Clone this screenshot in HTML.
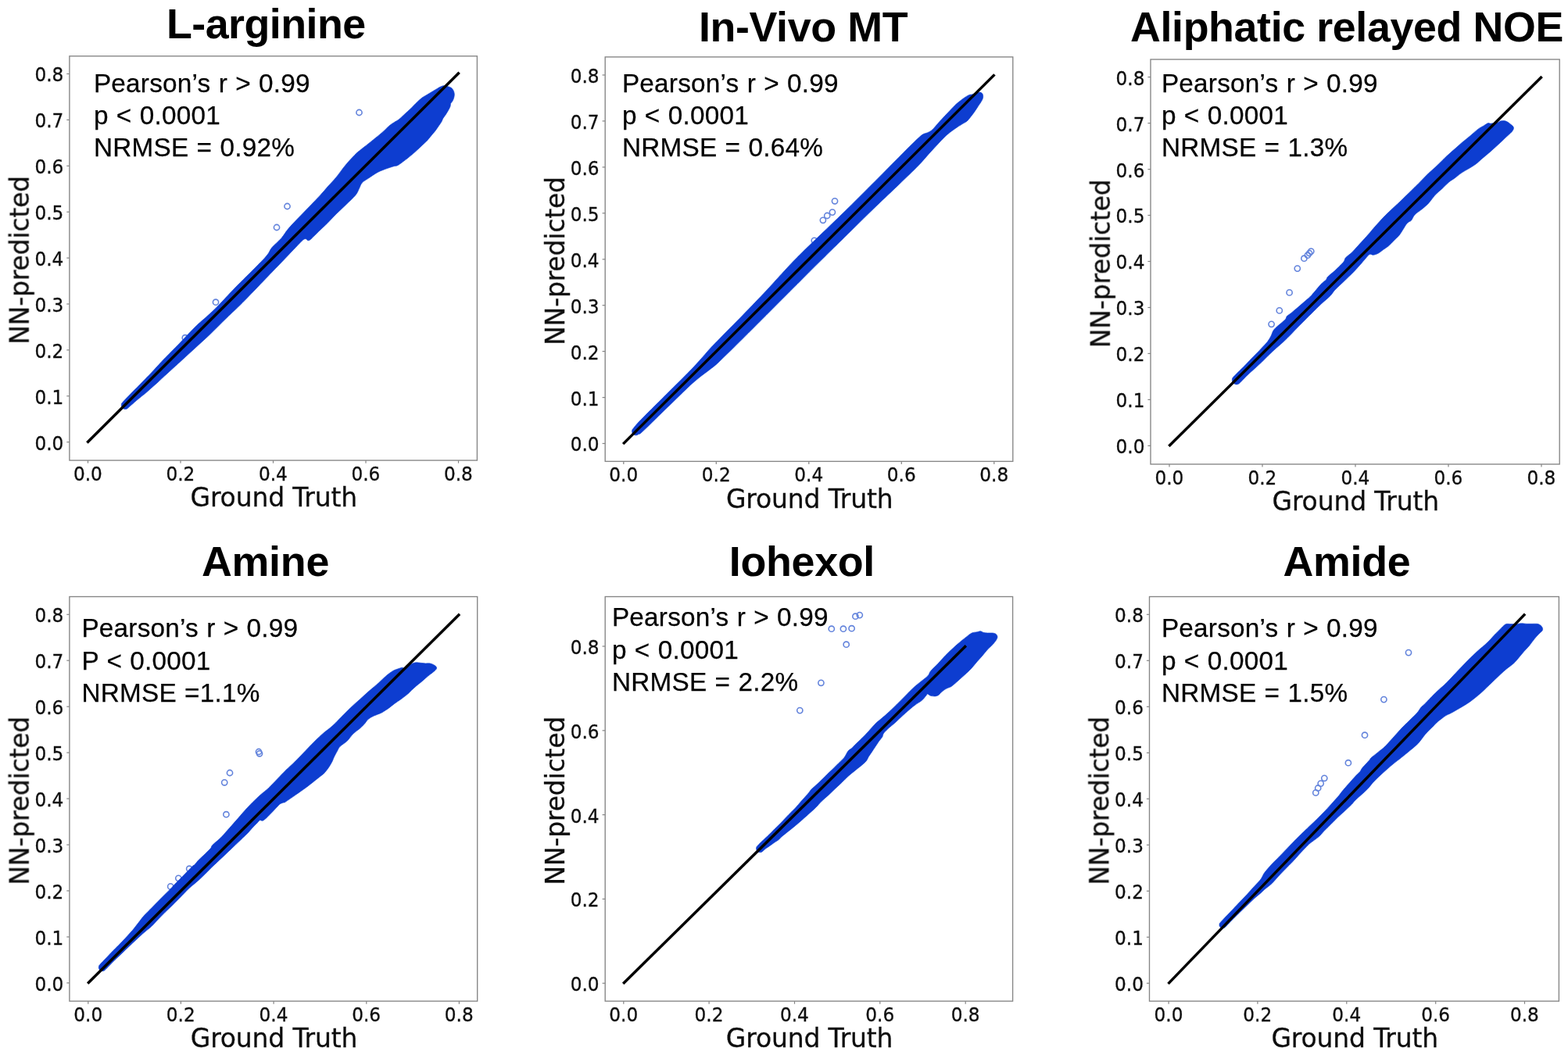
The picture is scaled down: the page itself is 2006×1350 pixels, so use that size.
<!DOCTYPE html>
<html lang="en">
<head>
<meta charset="utf-8">
<title>NN-predicted vs Ground Truth</title>
<style>
html,body{margin:0;padding:0;background:#fff;}
body{width:2006px;height:1350px;overflow:hidden;}
svg{display:block;}
.tk{font-family:"DejaVu Sans","Liberation Sans",sans-serif;font-size:25.0px;fill:#111111;stroke:#111111;stroke-width:0.35px;}
.lb{font-family:"DejaVu Sans","Liberation Sans",sans-serif;font-size:33px;fill:#111111;letter-spacing:-0.17px;stroke:#111111;stroke-width:0.3px;}
.an{font-family:"Liberation Sans",Arial,sans-serif;font-size:33.3px;fill:#000;white-space:pre;letter-spacing:0.24px;word-spacing:0.7px;stroke:#000;stroke-width:0.25px;}
.tt{font-family:"Liberation Sans",Arial,sans-serif;font-size:53.8px;font-weight:bold;fill:#000;}
.mpl{filter:url(#soft);}
</style>
</head>
<body>
<svg xmlns="http://www.w3.org/2000/svg" width="2006" height="1350" viewBox="0 0 2006 1350">
<defs><filter id="soft" x="0" y="0" width="2006" height="1350" filterUnits="userSpaceOnUse"><feGaussianBlur stdDeviation="0.65"/></filter></defs>
<rect width="2006" height="1350" fill="#ffffff"/>
<g class="mpl">
<circle cx="459.5" cy="144.0" r="3.6" fill="none" stroke="#6484dc" stroke-width="1.6"/>
<circle cx="367.5" cy="264.0" r="3.6" fill="none" stroke="#6484dc" stroke-width="1.6"/>
<circle cx="354.0" cy="291.0" r="3.6" fill="none" stroke="#6484dc" stroke-width="1.6"/>
<circle cx="276.0" cy="386.7" r="3.6" fill="none" stroke="#6484dc" stroke-width="1.6"/>
<circle cx="236.8" cy="432.2" r="3.6" fill="none" stroke="#6484dc" stroke-width="1.6"/>
<path d="M163.8,522.1C162.7,522.9 162.4,523.2 161.5,523.4C160.7,523.6 159.7,523.6 158.9,523.4C158.1,523.2 157.3,522.7 156.7,522.1C156.1,521.5 155.6,520.6 155.4,519.8C155.2,519.0 155.2,518.0 155.4,517.2C155.6,516.4 154.6,517.3 156.7,514.9C158.8,512.6 164.6,506.6 168.0,503.1C171.4,499.6 174.0,497.1 177.0,494.1C180.0,491.0 183.2,487.7 186.0,484.8C188.8,481.9 191.2,479.6 194.0,476.6C196.8,473.6 200.3,469.7 203.0,466.8C205.7,463.9 205.5,464.0 210.0,459.3C214.5,454.7 223.3,445.8 230.0,438.9C236.7,432.1 244.2,423.8 250.0,418.1C255.8,412.3 260.0,409.3 265.0,404.6C270.0,400.0 274.2,396.2 280.0,390.2C285.8,384.3 291.7,377.6 300.0,369.0C308.3,360.5 323.0,346.2 330.0,339.0C337.0,331.8 339.0,329.8 342.0,326.1C345.0,322.3 345.0,320.2 348.0,316.6C351.0,313.0 356.3,308.9 360.0,304.7C363.7,300.4 365.0,297.0 370.0,291.3C375.0,285.6 383.3,277.3 390.0,270.3C396.7,263.3 405.0,254.8 410.0,249.4C415.0,244.0 416.7,241.7 420.0,238.0C423.3,234.2 426.4,231.4 430.0,226.9C433.6,222.5 437.9,216.2 441.9,211.4C445.8,206.7 450.8,201.5 453.7,198.5C456.6,195.4 457.6,194.8 459.6,193.1C461.6,191.4 462.6,190.7 465.6,188.3C468.6,186.0 473.5,182.1 477.4,178.9C481.3,175.7 485.6,172.4 489.0,169.4C492.4,166.4 495.4,163.1 498.0,160.9C500.6,158.7 502.7,157.7 504.7,156.3C506.7,155.0 508.0,154.6 510.0,153.1C512.0,151.5 513.9,149.6 516.7,147.0C519.5,144.4 523.9,140.3 526.7,137.7C529.5,135.0 531.1,133.1 533.3,131.0C535.5,128.9 537.8,126.7 540.0,125.0C542.2,123.4 544.5,122.3 546.7,121.0C548.9,119.6 551.1,118.4 553.3,117.0C555.5,115.7 558.0,114.1 560.0,113.0C562.0,111.8 563.8,110.8 565.3,110.3C566.8,109.7 567.4,109.6 568.7,109.7C570.0,109.8 571.9,110.3 573.3,110.7C574.7,111.1 576.2,111.5 577.3,112.3C578.4,113.1 579.3,114.4 580.0,115.7C580.7,117.0 581.2,118.8 581.3,120.3C581.4,121.8 581.1,123.4 580.7,125.0C580.3,126.6 579.4,128.5 578.7,129.7C578.0,130.9 577.2,131.2 576.7,132.3C576.2,133.4 576.6,134.7 576.0,136.3C575.4,137.9 574.3,139.9 573.3,141.7C572.3,143.5 571.1,145.3 570.0,147.0C568.9,148.7 567.5,150.4 566.7,151.7C565.9,153.0 565.9,153.9 565.3,155.0C564.7,156.1 564.2,157.0 563.3,158.3C562.4,159.6 561.1,161.4 560.0,163.0C558.9,164.6 557.8,166.2 556.7,167.7C555.6,169.1 554.4,170.4 553.3,171.7C552.2,173.0 551.1,174.4 550.0,175.7C548.9,177.0 547.8,178.5 546.7,179.7C545.6,180.9 545.8,180.7 543.3,183.0C540.8,185.3 535.5,190.4 532.0,193.6C528.5,196.8 525.7,199.2 522.0,202.0C518.3,204.9 513.0,209.1 510.0,210.9C507.0,212.7 506.5,212.0 504.0,212.7C501.5,213.5 498.6,214.3 495.2,215.6C491.8,216.9 487.2,218.4 483.3,220.4C479.4,222.5 474.9,225.8 471.5,228.1C468.1,230.3 465.2,231.8 463.2,234.0C461.2,236.2 461.0,238.5 459.6,241.1C458.2,243.7 457.8,246.2 454.9,249.7C452.0,253.2 446.5,258.1 442.4,262.2C438.2,266.3 433.9,270.2 430.0,274.0C426.1,277.9 422.3,282.1 419.0,285.5C415.7,288.8 413.0,291.1 410.0,294.0C407.0,296.9 403.2,300.7 401.0,302.8C398.8,304.9 398.2,305.8 397.0,306.7C395.8,307.5 394.9,308.0 394.0,307.8C393.1,307.7 392.5,306.0 391.5,305.8C390.5,305.7 389.9,305.3 388.0,306.8C386.1,308.3 384.7,309.9 380.0,314.8C375.3,319.6 366.7,328.8 360.0,335.8C353.3,342.7 348.3,347.9 340.0,356.5C331.7,365.2 318.3,379.2 310.0,387.6C301.7,396.0 297.0,400.0 290.0,406.8C283.0,413.6 274.7,422.1 268.0,428.5C261.3,434.8 256.3,439.2 250.0,445.1C243.7,450.9 236.7,457.3 230.0,463.4C223.3,469.5 214.5,477.5 210.0,481.6C205.5,485.8 205.7,485.8 203.0,488.2C200.3,490.6 196.8,493.7 194.0,496.2C191.2,498.8 188.8,500.9 186.0,503.3C183.2,505.7 180.0,508.0 177.0,510.5C174.0,513.0 170.2,516.4 168.0,518.3C165.8,520.2 164.9,521.2 163.8,522.1Z" fill="#0a3dd0" stroke="#0a3dd0" stroke-width="0.6" stroke-linejoin="round"/>
<line x1="111.36" y1="566.43" x2="587.64" y2="92.77" stroke="#000" stroke-width="3.5" stroke-linecap="butt"/>
<rect x="88.9" y="71.8" width="521.5" height="517.3" fill="none" stroke="#858585" stroke-width="1.35"/>
<line x1="112.5" y1="589.1" x2="112.5" y2="592.7" stroke="#858585" stroke-width="1.2"/>
<text transform="translate(112.4,614.7) scale(0.928,1)" text-anchor="middle" class="tk">0.0</text>
<line x1="231.0" y1="589.1" x2="231.0" y2="592.7" stroke="#858585" stroke-width="1.2"/>
<text transform="translate(230.9,614.7) scale(0.928,1)" text-anchor="middle" class="tk">0.2</text>
<line x1="349.5" y1="589.1" x2="349.5" y2="592.7" stroke="#858585" stroke-width="1.2"/>
<text transform="translate(349.4,614.7) scale(0.928,1)" text-anchor="middle" class="tk">0.4</text>
<line x1="468.0" y1="589.1" x2="468.0" y2="592.7" stroke="#858585" stroke-width="1.2"/>
<text transform="translate(467.9,614.7) scale(0.928,1)" text-anchor="middle" class="tk">0.6</text>
<line x1="586.5" y1="589.1" x2="586.5" y2="592.7" stroke="#858585" stroke-width="1.2"/>
<text transform="translate(586.4,614.7) scale(0.928,1)" text-anchor="middle" class="tk">0.8</text>
<line x1="85.3" y1="565.7" x2="88.9" y2="565.7" stroke="#858585" stroke-width="1.2"/>
<text transform="translate(81.3,575.6) scale(0.928,1)" text-anchor="end" class="tk">0.0</text>
<line x1="85.3" y1="506.8" x2="88.9" y2="506.8" stroke="#858585" stroke-width="1.2"/>
<text transform="translate(81.3,516.7) scale(0.928,1)" text-anchor="end" class="tk">0.1</text>
<line x1="85.3" y1="447.9" x2="88.9" y2="447.9" stroke="#858585" stroke-width="1.2"/>
<text transform="translate(81.3,457.8) scale(0.928,1)" text-anchor="end" class="tk">0.2</text>
<line x1="85.3" y1="389.0" x2="88.9" y2="389.0" stroke="#858585" stroke-width="1.2"/>
<text transform="translate(81.3,398.9) scale(0.928,1)" text-anchor="end" class="tk">0.3</text>
<line x1="85.3" y1="330.1" x2="88.9" y2="330.1" stroke="#858585" stroke-width="1.2"/>
<text transform="translate(81.3,340.0) scale(0.928,1)" text-anchor="end" class="tk">0.4</text>
<line x1="85.3" y1="271.2" x2="88.9" y2="271.2" stroke="#858585" stroke-width="1.2"/>
<text transform="translate(81.3,281.1) scale(0.928,1)" text-anchor="end" class="tk">0.5</text>
<line x1="85.3" y1="212.3" x2="88.9" y2="212.3" stroke="#858585" stroke-width="1.2"/>
<text transform="translate(81.3,222.2) scale(0.928,1)" text-anchor="end" class="tk">0.6</text>
<line x1="85.3" y1="153.4" x2="88.9" y2="153.4" stroke="#858585" stroke-width="1.2"/>
<text transform="translate(81.3,163.3) scale(0.928,1)" text-anchor="end" class="tk">0.7</text>
<line x1="85.3" y1="94.5" x2="88.9" y2="94.5" stroke="#858585" stroke-width="1.2"/>
<text transform="translate(81.3,104.4) scale(0.928,1)" text-anchor="end" class="tk">0.8</text>
<text x="350.3" y="648.4" text-anchor="middle" class="lb">Ground Truth</text>
<text transform="translate(36.7,332.8) rotate(-90)" text-anchor="middle" class="lb">NN-predicted</text>
</g>
<text x="119.9" y="117.5" class="an">Pearson’s r &gt; 0.99</text>
<text x="119.9" y="158.6" class="an">p &lt; 0.0001</text>
<text x="119.9" y="199.6" class="an">NRMSE = 0.92%</text>
<text x="340.3" y="49.4" text-anchor="middle" class="tt" style="letter-spacing:-0.53px">L-arginine</text>
<g class="mpl">
<circle cx="1068.0" cy="257.3" r="3.6" fill="none" stroke="#6484dc" stroke-width="1.6"/>
<circle cx="1064.9" cy="271.6" r="3.6" fill="none" stroke="#6484dc" stroke-width="1.6"/>
<circle cx="1058.2" cy="276.0" r="3.6" fill="none" stroke="#6484dc" stroke-width="1.6"/>
<circle cx="1052.9" cy="281.8" r="3.6" fill="none" stroke="#6484dc" stroke-width="1.6"/>
<circle cx="1041.8" cy="307.8" r="3.6" fill="none" stroke="#6484dc" stroke-width="1.6"/>
<path d="M817.1,555.5C815.9,556.2 815.7,556.6 814.8,556.8C814.0,557.0 813.0,557.0 812.2,556.8C811.4,556.6 810.6,556.1 810.0,555.5C809.4,554.9 808.9,554.0 808.7,553.2C808.5,552.4 808.5,551.4 808.7,550.6C808.9,549.8 808.1,550.6 810.0,548.4C811.9,546.1 813.3,544.0 820.0,537.1C826.7,530.2 840.0,517.1 850.0,507.1C860.0,497.1 872.5,484.9 880.0,477.2C887.5,469.6 890.3,466.5 895.0,461.3C899.7,456.2 903.8,450.9 908.0,446.4C912.2,441.8 913.0,441.1 920.0,433.9C927.0,426.8 940.0,413.9 950.0,403.6C960.0,393.3 971.7,381.1 980.0,372.3C988.3,363.4 993.3,357.5 1000.0,350.4C1006.7,343.2 1011.7,337.5 1020.0,329.2C1028.3,320.8 1040.0,309.8 1050.0,300.1C1060.0,290.5 1068.3,282.6 1080.0,271.2C1091.7,259.7 1108.3,243.1 1120.0,231.4C1131.7,219.7 1141.7,209.5 1150.0,201.2C1158.3,192.8 1165.0,186.1 1170.0,181.3C1175.0,176.5 1177.2,174.3 1180.0,172.3C1182.8,170.4 1184.5,170.7 1186.7,169.7C1188.9,168.6 1190.5,168.1 1193.0,165.8C1195.5,163.4 1198.3,159.6 1202.0,155.6C1205.7,151.6 1211.3,145.5 1215.0,141.7C1218.7,137.9 1221.0,135.3 1224.0,132.6C1227.0,130.0 1230.2,127.5 1232.8,125.7C1235.4,123.9 1237.6,122.5 1239.4,121.7C1241.2,120.9 1242.1,121.3 1243.9,120.8C1245.7,120.3 1248.3,119.0 1250.0,118.6C1251.7,118.1 1252.9,117.8 1254.1,118.1C1255.3,118.4 1256.4,119.3 1257.0,120.3C1257.6,121.3 1257.7,122.7 1257.7,123.9C1257.7,125.1 1257.2,126.2 1256.8,127.3C1256.3,128.4 1256.0,128.9 1255.0,130.6C1254.0,132.2 1252.1,135.0 1250.6,137.2C1249.1,139.4 1247.6,141.8 1246.1,143.9C1244.6,146.0 1243.2,147.8 1241.7,149.7C1240.2,151.6 1238.7,153.7 1237.2,155.0C1235.8,156.3 1235.1,156.3 1233.0,157.6C1230.9,158.9 1227.3,161.0 1224.4,162.9C1221.5,164.9 1218.5,166.8 1215.6,169.2C1212.6,171.6 1211.1,172.7 1206.7,177.2C1202.3,181.6 1194.3,190.4 1189.0,196.2C1183.7,201.9 1181.5,205.1 1175.0,211.8C1168.5,218.5 1159.2,227.3 1150.0,236.2C1140.8,245.0 1131.7,253.5 1120.0,264.8C1108.3,276.1 1091.7,292.6 1080.0,304.1C1068.3,315.6 1060.0,323.7 1050.0,333.6C1040.0,343.5 1031.7,351.8 1020.0,363.5C1008.3,375.1 991.7,391.9 980.0,403.6C968.3,415.2 960.0,423.7 950.0,433.6C940.0,443.5 927.0,456.4 920.0,462.9C913.0,469.5 912.2,469.6 908.0,472.9C903.8,476.2 899.7,479.0 895.0,482.8C890.3,486.7 887.5,488.9 880.0,495.9C872.5,503.0 859.7,515.7 850.0,525.1C840.3,534.5 827.5,547.3 822.0,552.3C816.5,557.4 818.3,554.8 817.1,555.5Z" fill="#0a3dd0" stroke="#0a3dd0" stroke-width="0.6" stroke-linejoin="round"/>
<line x1="797.16" y1="568.13" x2="1272.44" y2="95.37" stroke="#000" stroke-width="3.5" stroke-linecap="butt"/>
<rect x="774.2" y="72.9" width="521.6" height="517.5" fill="none" stroke="#858585" stroke-width="1.35"/>
<line x1="797.8" y1="590.4" x2="797.8" y2="594.0" stroke="#858585" stroke-width="1.2"/>
<text transform="translate(797.7,616.0) scale(0.928,1)" text-anchor="middle" class="tk">0.0</text>
<line x1="916.3" y1="590.4" x2="916.3" y2="594.0" stroke="#858585" stroke-width="1.2"/>
<text transform="translate(916.2,616.0) scale(0.928,1)" text-anchor="middle" class="tk">0.2</text>
<line x1="1034.8" y1="590.4" x2="1034.8" y2="594.0" stroke="#858585" stroke-width="1.2"/>
<text transform="translate(1034.7,616.0) scale(0.928,1)" text-anchor="middle" class="tk">0.4</text>
<line x1="1153.3" y1="590.4" x2="1153.3" y2="594.0" stroke="#858585" stroke-width="1.2"/>
<text transform="translate(1153.2,616.0) scale(0.928,1)" text-anchor="middle" class="tk">0.6</text>
<line x1="1271.8" y1="590.4" x2="1271.8" y2="594.0" stroke="#858585" stroke-width="1.2"/>
<text transform="translate(1271.7,616.0) scale(0.928,1)" text-anchor="middle" class="tk">0.8</text>
<line x1="770.6" y1="567.5" x2="774.2" y2="567.5" stroke="#858585" stroke-width="1.2"/>
<text transform="translate(766.6,577.4) scale(0.928,1)" text-anchor="end" class="tk">0.0</text>
<line x1="770.6" y1="508.6" x2="774.2" y2="508.6" stroke="#858585" stroke-width="1.2"/>
<text transform="translate(766.6,518.5) scale(0.928,1)" text-anchor="end" class="tk">0.1</text>
<line x1="770.6" y1="449.6" x2="774.2" y2="449.6" stroke="#858585" stroke-width="1.2"/>
<text transform="translate(766.6,459.5) scale(0.928,1)" text-anchor="end" class="tk">0.2</text>
<line x1="770.6" y1="390.7" x2="774.2" y2="390.7" stroke="#858585" stroke-width="1.2"/>
<text transform="translate(766.6,400.6) scale(0.928,1)" text-anchor="end" class="tk">0.3</text>
<line x1="770.6" y1="331.8" x2="774.2" y2="331.8" stroke="#858585" stroke-width="1.2"/>
<text transform="translate(766.6,341.6) scale(0.928,1)" text-anchor="end" class="tk">0.4</text>
<line x1="770.6" y1="272.8" x2="774.2" y2="272.8" stroke="#858585" stroke-width="1.2"/>
<text transform="translate(766.6,282.7) scale(0.928,1)" text-anchor="end" class="tk">0.5</text>
<line x1="770.6" y1="213.9" x2="774.2" y2="213.9" stroke="#858585" stroke-width="1.2"/>
<text transform="translate(766.6,223.8) scale(0.928,1)" text-anchor="end" class="tk">0.6</text>
<line x1="770.6" y1="154.9" x2="774.2" y2="154.9" stroke="#858585" stroke-width="1.2"/>
<text transform="translate(766.6,164.8) scale(0.928,1)" text-anchor="end" class="tk">0.7</text>
<line x1="770.6" y1="96.0" x2="774.2" y2="96.0" stroke="#858585" stroke-width="1.2"/>
<text transform="translate(766.6,105.9) scale(0.928,1)" text-anchor="end" class="tk">0.8</text>
<text x="1035.7" y="649.7" text-anchor="middle" class="lb">Ground Truth</text>
<text transform="translate(722.0,333.9) rotate(-90)" text-anchor="middle" class="lb">NN-predicted</text>
</g>
<text x="795.9" y="117.5" class="an">Pearson’s r &gt; 0.99</text>
<text x="795.9" y="158.6" class="an">p &lt; 0.0001</text>
<text x="795.9" y="199.6" class="an">NRMSE = 0.64%</text>
<text x="1027.6" y="52.7" text-anchor="middle" class="tt" style="letter-spacing:-0.37px">In-Vivo MT</text>
<g class="mpl">
<circle cx="1626.6" cy="414.8" r="3.6" fill="none" stroke="#6484dc" stroke-width="1.6"/>
<circle cx="1636.8" cy="397.4" r="3.6" fill="none" stroke="#6484dc" stroke-width="1.6"/>
<circle cx="1649.6" cy="374.4" r="3.6" fill="none" stroke="#6484dc" stroke-width="1.6"/>
<circle cx="1659.8" cy="343.6" r="3.6" fill="none" stroke="#6484dc" stroke-width="1.6"/>
<circle cx="1668.4" cy="330.7" r="3.6" fill="none" stroke="#6484dc" stroke-width="1.6"/>
<circle cx="1672.9" cy="326.7" r="3.6" fill="none" stroke="#6484dc" stroke-width="1.6"/>
<circle cx="1675.1" cy="324.0" r="3.6" fill="none" stroke="#6484dc" stroke-width="1.6"/>
<circle cx="1677.3" cy="321.6" r="3.6" fill="none" stroke="#6484dc" stroke-width="1.6"/>
<path d="M1585.9,490.3C1584.8,491.2 1584.3,491.5 1583.4,491.7C1582.5,492.0 1581.4,492.0 1580.5,491.7C1579.6,491.5 1578.6,490.9 1578.0,490.3C1577.3,489.6 1576.8,488.6 1576.5,487.7C1576.3,486.8 1576.3,485.7 1576.5,484.8C1576.8,483.9 1576.1,484.4 1578.0,482.3C1579.9,480.2 1585.7,474.6 1588.0,472.3C1590.3,470.0 1589.8,470.6 1592.0,468.3C1594.2,466.1 1598.2,461.8 1601.0,458.8C1603.8,455.9 1606.2,453.7 1609.0,450.8C1611.8,447.9 1615.8,443.5 1618.0,441.2C1620.2,438.8 1620.7,438.5 1622.0,436.6C1623.3,434.8 1624.7,432.6 1626.0,430.0C1627.3,427.5 1627.8,424.3 1630.0,421.6C1632.2,418.8 1636.5,415.7 1639.0,413.5C1641.5,411.2 1643.5,409.7 1644.7,408.2C1645.9,406.7 1645.2,405.9 1646.4,404.6C1647.6,403.3 1649.6,402.4 1652.0,400.4C1654.4,398.4 1658.0,395.3 1661.0,392.8C1664.0,390.2 1667.2,387.5 1670.0,385.0C1672.8,382.5 1674.7,381.3 1678.0,377.7C1681.3,374.1 1686.9,366.9 1690.0,363.6C1693.1,360.3 1695.1,359.5 1696.6,357.9C1698.0,356.3 1696.9,356.0 1698.7,354.1C1700.5,352.2 1704.6,349.1 1707.5,346.5C1710.4,343.8 1714.2,340.3 1716.2,338.1C1718.2,336.0 1718.8,335.2 1719.7,333.8C1720.6,332.4 1719.9,331.6 1721.5,329.8C1723.1,328.0 1727.3,325.0 1729.3,323.2C1731.3,321.3 1730.2,322.3 1733.7,318.5C1737.2,314.7 1745.8,305.4 1750.0,300.6C1754.2,295.9 1756.0,293.4 1759.0,290.0C1762.0,286.6 1765.0,283.3 1768.0,280.1C1771.0,276.9 1774.1,273.9 1777.0,271.1C1779.9,268.2 1783.4,265.0 1785.6,263.0C1787.8,260.9 1785.9,262.9 1790.0,259.0C1794.1,255.1 1805.2,244.2 1810.0,239.5C1814.8,234.7 1816.1,233.4 1819.0,230.4C1821.9,227.5 1824.7,224.5 1827.5,221.8C1830.3,219.1 1833.1,216.9 1836.0,214.2C1838.9,211.5 1842.5,207.9 1845.0,205.5C1847.5,203.1 1848.5,201.9 1851.0,199.6C1853.5,197.3 1856.8,194.4 1860.0,191.6C1863.2,188.8 1866.6,185.6 1870.0,182.7C1873.4,179.8 1877.0,177.1 1880.4,174.2C1883.9,171.3 1887.7,167.6 1890.7,165.4C1893.7,163.1 1896.3,161.9 1898.5,160.7C1900.7,159.4 1902.2,158.0 1903.7,157.6C1905.2,157.2 1905.3,158.2 1907.3,158.1C1909.3,158.0 1913.6,157.6 1915.6,157.1C1917.6,156.6 1917.7,155.4 1919.2,155.0C1920.7,154.6 1922.8,154.3 1924.4,154.5C1926.0,154.7 1927.3,155.4 1928.6,156.1C1929.9,156.8 1931.1,157.8 1932.2,158.7C1933.3,159.6 1934.6,160.4 1935.3,161.3C1936.0,162.2 1936.7,163.1 1936.4,164.4C1936.2,165.7 1935.4,167.2 1933.8,169.0C1932.2,170.8 1929.8,172.6 1927.0,175.3C1924.2,178.0 1920.2,181.9 1916.7,185.1C1913.2,188.3 1909.8,191.4 1906.3,194.4C1902.8,197.4 1898.9,200.6 1895.9,203.2C1892.9,205.8 1890.9,207.9 1888.1,210.0C1885.3,212.1 1882.0,213.9 1879.0,215.8C1876.0,217.6 1872.8,219.2 1870.0,221.1C1867.2,223.0 1864.4,225.5 1862.4,226.9C1860.4,228.4 1859.5,229.0 1858.0,230.0C1856.5,231.0 1855.9,231.2 1853.7,233.1C1851.5,235.0 1848.0,238.6 1845.0,241.4C1842.0,244.1 1838.8,246.5 1836.0,249.6C1833.2,252.7 1830.8,256.7 1828.0,259.7C1825.2,262.8 1822.0,265.2 1819.0,267.8C1816.0,270.3 1812.2,272.4 1810.0,274.8C1807.8,277.2 1806.9,280.5 1805.6,282.0C1804.3,283.6 1803.5,283.0 1802.4,283.9C1801.3,284.8 1800.3,285.5 1799.0,287.3C1797.7,289.1 1795.9,292.3 1794.4,294.6C1792.9,297.0 1791.9,298.9 1790.0,301.2C1788.1,303.5 1785.2,306.0 1783.0,308.2C1780.8,310.5 1778.9,312.7 1776.7,314.6C1774.5,316.4 1772.3,317.7 1770.0,319.3C1767.7,320.9 1765.2,323.1 1763.0,324.3C1760.8,325.4 1758.7,326.1 1757.0,326.2C1755.3,326.4 1754.2,325.0 1753.0,325.2C1751.8,325.4 1751.8,325.5 1750.0,327.3C1748.2,329.2 1745.1,333.1 1742.4,336.2C1739.7,339.3 1736.6,342.8 1733.7,345.9C1730.8,349.0 1728.0,351.7 1725.0,354.6C1722.0,357.5 1718.9,360.5 1716.0,363.2C1713.1,366.0 1709.8,368.8 1707.5,371.4C1705.2,373.9 1704.9,375.4 1702.0,378.4C1699.1,381.4 1693.8,385.6 1690.0,389.2C1686.2,392.8 1682.3,396.7 1679.0,400.0C1675.7,403.3 1673.0,406.0 1670.0,409.0C1667.0,412.0 1664.0,415.0 1661.0,418.1C1658.0,421.1 1655.2,424.2 1652.0,427.5C1648.8,430.7 1645.3,434.3 1641.6,437.7C1637.9,441.1 1633.3,444.9 1630.0,447.9C1626.7,450.9 1624.7,452.9 1622.0,455.5C1619.3,458.1 1616.8,460.9 1614.0,463.6C1611.2,466.3 1608.0,469.0 1605.0,471.8C1602.0,474.5 1598.2,477.9 1596.0,480.0C1593.8,482.0 1593.0,483.0 1592.0,484.0C1591.0,485.1 1591.0,485.1 1590.0,486.1C1589.0,487.2 1587.0,489.4 1585.9,490.3Z" fill="#0a3dd0" stroke="#0a3dd0" stroke-width="0.6" stroke-linejoin="round"/>
<line x1="1495.36" y1="571.03" x2="1972.64" y2="97.97" stroke="#000" stroke-width="3.5" stroke-linecap="butt"/>
<rect x="1472.0" y="76.0" width="523.2" height="518.0" fill="none" stroke="#858585" stroke-width="1.35"/>
<line x1="1496.0" y1="594.0" x2="1496.0" y2="597.6" stroke="#858585" stroke-width="1.2"/>
<text transform="translate(1495.9,619.6) scale(0.928,1)" text-anchor="middle" class="tk">0.0</text>
<line x1="1615.0" y1="594.0" x2="1615.0" y2="597.6" stroke="#858585" stroke-width="1.2"/>
<text transform="translate(1614.9,619.6) scale(0.928,1)" text-anchor="middle" class="tk">0.2</text>
<line x1="1734.0" y1="594.0" x2="1734.0" y2="597.6" stroke="#858585" stroke-width="1.2"/>
<text transform="translate(1733.9,619.6) scale(0.928,1)" text-anchor="middle" class="tk">0.4</text>
<line x1="1853.0" y1="594.0" x2="1853.0" y2="597.6" stroke="#858585" stroke-width="1.2"/>
<text transform="translate(1852.9,619.6) scale(0.928,1)" text-anchor="middle" class="tk">0.6</text>
<line x1="1972.0" y1="594.0" x2="1972.0" y2="597.6" stroke="#858585" stroke-width="1.2"/>
<text transform="translate(1971.9,619.6) scale(0.928,1)" text-anchor="middle" class="tk">0.8</text>
<line x1="1468.4" y1="570.4" x2="1472.0" y2="570.4" stroke="#858585" stroke-width="1.2"/>
<text transform="translate(1464.4,580.3) scale(0.928,1)" text-anchor="end" class="tk">0.0</text>
<line x1="1468.4" y1="511.4" x2="1472.0" y2="511.4" stroke="#858585" stroke-width="1.2"/>
<text transform="translate(1464.4,521.3) scale(0.928,1)" text-anchor="end" class="tk">0.1</text>
<line x1="1468.4" y1="452.4" x2="1472.0" y2="452.4" stroke="#858585" stroke-width="1.2"/>
<text transform="translate(1464.4,462.3) scale(0.928,1)" text-anchor="end" class="tk">0.2</text>
<line x1="1468.4" y1="393.5" x2="1472.0" y2="393.5" stroke="#858585" stroke-width="1.2"/>
<text transform="translate(1464.4,403.4) scale(0.928,1)" text-anchor="end" class="tk">0.3</text>
<line x1="1468.4" y1="334.5" x2="1472.0" y2="334.5" stroke="#858585" stroke-width="1.2"/>
<text transform="translate(1464.4,344.4) scale(0.928,1)" text-anchor="end" class="tk">0.4</text>
<line x1="1468.4" y1="275.5" x2="1472.0" y2="275.5" stroke="#858585" stroke-width="1.2"/>
<text transform="translate(1464.4,285.4) scale(0.928,1)" text-anchor="end" class="tk">0.5</text>
<line x1="1468.4" y1="216.6" x2="1472.0" y2="216.6" stroke="#858585" stroke-width="1.2"/>
<text transform="translate(1464.4,226.5) scale(0.928,1)" text-anchor="end" class="tk">0.6</text>
<line x1="1468.4" y1="157.6" x2="1472.0" y2="157.6" stroke="#858585" stroke-width="1.2"/>
<text transform="translate(1464.4,167.5) scale(0.928,1)" text-anchor="end" class="tk">0.7</text>
<line x1="1468.4" y1="98.6" x2="1472.0" y2="98.6" stroke="#858585" stroke-width="1.2"/>
<text transform="translate(1464.4,108.5) scale(0.928,1)" text-anchor="end" class="tk">0.8</text>
<text x="1734.3" y="653.3" text-anchor="middle" class="lb">Ground Truth</text>
<text transform="translate(1419.8,337.3) rotate(-90)" text-anchor="middle" class="lb">NN-predicted</text>
</g>
<text x="1485.9" y="117.5" class="an">Pearson’s r &gt; 0.99</text>
<text x="1485.9" y="158.6" class="an">p &lt; 0.0001</text>
<text x="1485.9" y="199.6" class="an">NRMSE = 1.3%</text>
<text x="1723.0" y="53.1" text-anchor="middle" class="tt" style="letter-spacing:-0.39px">Aliphatic relayed NOE</text>
<g class="mpl">
<circle cx="218.2" cy="1134.4" r="3.6" fill="none" stroke="#6484dc" stroke-width="1.6"/>
<circle cx="228.3" cy="1123.8" r="3.6" fill="none" stroke="#6484dc" stroke-width="1.6"/>
<circle cx="242.2" cy="1111.7" r="3.6" fill="none" stroke="#6484dc" stroke-width="1.6"/>
<circle cx="289.4" cy="1042.2" r="3.6" fill="none" stroke="#6484dc" stroke-width="1.6"/>
<circle cx="287.2" cy="1001.3" r="3.6" fill="none" stroke="#6484dc" stroke-width="1.6"/>
<circle cx="294.0" cy="989.0" r="3.6" fill="none" stroke="#6484dc" stroke-width="1.6"/>
<circle cx="331.0" cy="962.0" r="3.6" fill="none" stroke="#6484dc" stroke-width="1.6"/>
<circle cx="332.0" cy="964.3" r="3.6" fill="none" stroke="#6484dc" stroke-width="1.6"/>
<path d="M134.4,1241.2C133.2,1242.3 133.1,1242.2 132.3,1242.4C131.5,1242.6 130.6,1242.6 129.8,1242.4C129.1,1242.2 128.2,1241.7 127.7,1241.2C127.1,1240.6 126.6,1239.8 126.4,1239.0C126.2,1238.2 126.2,1237.3 126.5,1236.5C126.7,1235.8 125.8,1236.6 127.7,1234.4C129.6,1232.2 135.5,1226.3 138.0,1223.6C140.5,1220.9 140.7,1220.6 143.0,1218.2C145.3,1215.8 149.1,1212.3 152.0,1209.3C154.9,1206.3 157.7,1203.3 160.6,1200.2C163.5,1197.1 167.3,1192.8 169.4,1190.5C171.5,1188.1 171.4,1188.0 173.0,1186.0C174.6,1184.0 177.0,1180.8 179.0,1178.2C181.0,1175.7 182.5,1173.5 185.0,1170.8C187.5,1168.0 191.1,1164.7 194.0,1161.7C196.9,1158.8 199.7,1156.0 202.5,1153.1C205.3,1150.2 208.1,1147.5 211.0,1144.5C213.9,1141.6 217.0,1138.5 220.0,1135.4C223.0,1132.3 224.8,1130.3 229.0,1126.1C233.2,1121.8 241.6,1113.0 245.0,1109.7C248.4,1106.3 247.9,1107.6 249.4,1106.1C250.9,1104.6 251.8,1102.9 254.0,1100.6C256.2,1098.3 260.2,1094.8 262.8,1092.3C265.4,1089.8 267.9,1087.4 269.4,1085.6C270.9,1083.8 269.8,1083.5 271.7,1081.5C273.6,1079.5 278.1,1076.0 280.6,1073.6C283.2,1071.2 284.4,1069.7 287.0,1066.9C289.6,1064.1 293.0,1060.2 296.0,1056.8C299.0,1053.4 302.0,1050.0 305.0,1046.6C308.0,1043.1 311.0,1039.5 314.0,1036.2C317.0,1032.9 319.9,1029.8 322.8,1026.9C325.8,1023.9 328.7,1021.1 331.7,1018.4C334.7,1015.8 338.4,1012.8 340.6,1010.9C342.8,1009.0 340.9,1011.0 345.0,1006.9C349.1,1002.8 359.9,991.3 365.0,986.2C370.1,981.2 371.9,979.8 375.4,976.4C378.8,973.1 382.3,969.6 385.7,966.1C389.1,962.6 392.5,958.8 396.0,955.2C399.5,951.7 403.5,947.6 406.5,944.7C409.5,941.8 410.9,940.5 414.0,937.9C417.1,935.3 421.2,932.6 425.0,929.1C428.8,925.7 432.9,921.2 436.9,917.2C440.8,913.3 444.8,909.2 448.7,905.4C452.6,901.6 456.7,898.2 460.6,894.7C464.6,891.1 468.4,887.5 472.4,884.0C476.3,880.6 480.7,877.1 484.3,873.9C487.9,870.7 490.8,867.5 493.9,864.9C497.0,862.3 500.3,859.9 502.8,858.4C505.3,857.0 506.7,856.7 508.7,856.0C510.7,855.3 513.0,854.4 514.6,854.2C516.2,854.0 516.2,855.6 518.2,854.8C520.2,854.0 524.1,850.7 526.5,849.5C528.9,848.3 530.4,847.9 532.4,847.7C534.4,847.5 536.3,848.1 538.3,848.3C540.3,848.5 542.3,848.8 544.3,848.9C546.3,849.0 548.4,848.6 550.2,848.9C552.0,849.2 553.6,850.0 554.9,850.7C556.2,851.4 557.3,852.2 557.9,853.0C558.5,853.8 558.8,854.5 558.5,855.4C558.2,856.3 557.5,857.1 556.1,858.4C554.7,859.7 552.2,861.5 550.2,863.1C548.2,864.7 546.3,866.2 544.3,867.9C542.3,869.6 540.3,871.5 538.3,873.2C536.3,874.9 534.4,876.2 532.4,877.9C530.4,879.6 528.3,881.6 526.5,883.3C524.7,885.0 524.0,886.1 521.7,888.0C519.5,889.9 515.8,892.7 513.0,894.7C510.2,896.7 507.3,898.5 505.0,900.2C502.7,901.9 501.0,903.5 499.0,904.9C497.0,906.4 495.1,907.7 493.1,909.0C491.1,910.3 489.7,911.4 487.2,912.5C484.7,913.7 481.0,914.8 478.3,916.1C475.6,917.4 473.2,918.6 471.2,920.2C469.2,921.9 468.3,924.2 466.5,926.1C464.7,928.1 463.1,929.8 460.6,932.0C458.1,934.1 454.4,936.5 451.7,939.1C449.0,941.7 447.4,945.1 444.6,947.8C441.8,950.5 437.2,953.1 435.0,955.3C432.8,957.6 432.7,959.0 431.4,961.3C430.1,963.6 428.3,966.8 427.2,969.2C426.1,971.5 425.9,972.9 424.6,975.3C423.3,977.8 421.1,981.3 419.4,983.7C417.7,986.1 415.9,988.2 414.2,990.0C412.5,991.7 411.1,992.3 409.0,994.0C406.9,995.7 404.1,998.0 401.3,1000.2C398.5,1002.4 395.9,1004.6 392.0,1007.4C388.1,1010.3 382.5,1014.2 378.0,1017.3C373.5,1020.5 367.5,1024.7 365.0,1026.3C362.5,1027.9 363.9,1026.5 362.8,1026.9C361.7,1027.3 359.8,1027.7 358.3,1028.7C356.8,1029.7 355.5,1031.5 354.0,1033.1C352.5,1034.6 350.9,1036.5 349.4,1038.0C347.9,1039.6 346.5,1041.0 345.0,1042.5C343.5,1044.0 342.1,1045.6 340.6,1046.9C339.1,1048.2 337.3,1049.7 336.0,1050.2C334.7,1050.6 333.7,1049.1 332.6,1049.5C331.5,1050.0 331.0,1051.1 329.4,1052.7C327.8,1054.4 325.0,1057.0 322.8,1059.4C320.6,1061.8 319.0,1064.0 316.0,1067.0C313.0,1070.1 307.9,1074.7 305.0,1077.6C302.1,1080.4 300.9,1081.4 298.3,1083.9C295.7,1086.4 292.3,1089.6 289.4,1092.4C286.4,1095.2 283.6,1097.9 280.6,1100.7C277.7,1103.5 274.7,1106.3 271.7,1109.1C268.7,1112.0 265.8,1115.1 262.8,1118.0C259.9,1120.9 257.0,1123.8 254.0,1126.4C251.0,1129.1 247.8,1131.5 245.0,1134.0C242.2,1136.4 240.1,1138.5 237.4,1141.2C234.7,1143.9 231.6,1147.3 228.7,1150.3C225.8,1153.2 222.9,1156.1 220.0,1159.0C217.1,1161.9 213.9,1164.8 211.0,1167.6C208.1,1170.5 205.4,1173.3 202.5,1176.3C199.6,1179.3 196.6,1182.9 193.7,1185.6C190.8,1188.4 188.3,1189.9 185.0,1192.8C181.7,1195.6 177.3,1199.7 174.0,1202.8C170.7,1205.9 168.0,1208.5 165.0,1211.3C162.0,1214.2 159.0,1217.1 156.0,1219.9C153.0,1222.7 149.9,1225.6 147.2,1228.2C144.5,1230.8 142.1,1233.4 140.0,1235.6C137.9,1237.7 135.7,1240.1 134.4,1241.2Z" fill="#0a3dd0" stroke="#0a3dd0" stroke-width="0.6" stroke-linejoin="round"/>
<line x1="112.16" y1="1258.43" x2="588.04" y2="785.67" stroke="#000" stroke-width="3.5" stroke-linecap="butt"/>
<rect x="88.9" y="763.5" width="521.8" height="517.6" fill="none" stroke="#858585" stroke-width="1.35"/>
<line x1="112.8" y1="1281.1" x2="112.8" y2="1284.7" stroke="#858585" stroke-width="1.2"/>
<text transform="translate(112.7,1306.7) scale(0.928,1)" text-anchor="middle" class="tk">0.0</text>
<line x1="231.4" y1="1281.1" x2="231.4" y2="1284.7" stroke="#858585" stroke-width="1.2"/>
<text transform="translate(231.3,1306.7) scale(0.928,1)" text-anchor="middle" class="tk">0.2</text>
<line x1="350.1" y1="1281.1" x2="350.1" y2="1284.7" stroke="#858585" stroke-width="1.2"/>
<text transform="translate(350.0,1306.7) scale(0.928,1)" text-anchor="middle" class="tk">0.4</text>
<line x1="468.8" y1="1281.1" x2="468.8" y2="1284.7" stroke="#858585" stroke-width="1.2"/>
<text transform="translate(468.6,1306.7) scale(0.928,1)" text-anchor="middle" class="tk">0.6</text>
<line x1="587.4" y1="1281.1" x2="587.4" y2="1284.7" stroke="#858585" stroke-width="1.2"/>
<text transform="translate(587.3,1306.7) scale(0.928,1)" text-anchor="middle" class="tk">0.8</text>
<line x1="85.3" y1="1257.8" x2="88.9" y2="1257.8" stroke="#858585" stroke-width="1.2"/>
<text transform="translate(81.3,1267.7) scale(0.928,1)" text-anchor="end" class="tk">0.0</text>
<line x1="85.3" y1="1198.9" x2="88.9" y2="1198.9" stroke="#858585" stroke-width="1.2"/>
<text transform="translate(81.3,1208.8) scale(0.928,1)" text-anchor="end" class="tk">0.1</text>
<line x1="85.3" y1="1139.9" x2="88.9" y2="1139.9" stroke="#858585" stroke-width="1.2"/>
<text transform="translate(81.3,1149.8) scale(0.928,1)" text-anchor="end" class="tk">0.2</text>
<line x1="85.3" y1="1081.0" x2="88.9" y2="1081.0" stroke="#858585" stroke-width="1.2"/>
<text transform="translate(81.3,1090.9) scale(0.928,1)" text-anchor="end" class="tk">0.3</text>
<line x1="85.3" y1="1022.0" x2="88.9" y2="1022.0" stroke="#858585" stroke-width="1.2"/>
<text transform="translate(81.3,1032.0) scale(0.928,1)" text-anchor="end" class="tk">0.4</text>
<line x1="85.3" y1="963.1" x2="88.9" y2="963.1" stroke="#858585" stroke-width="1.2"/>
<text transform="translate(81.3,973.0) scale(0.928,1)" text-anchor="end" class="tk">0.5</text>
<line x1="85.3" y1="904.2" x2="88.9" y2="904.2" stroke="#858585" stroke-width="1.2"/>
<text transform="translate(81.3,914.1) scale(0.928,1)" text-anchor="end" class="tk">0.6</text>
<line x1="85.3" y1="845.2" x2="88.9" y2="845.2" stroke="#858585" stroke-width="1.2"/>
<text transform="translate(81.3,855.1) scale(0.928,1)" text-anchor="end" class="tk">0.7</text>
<line x1="85.3" y1="786.3" x2="88.9" y2="786.3" stroke="#858585" stroke-width="1.2"/>
<text transform="translate(81.3,796.2) scale(0.928,1)" text-anchor="end" class="tk">0.8</text>
<text x="350.5" y="1340.4" text-anchor="middle" class="lb">Ground Truth</text>
<text transform="translate(36.7,1024.6) rotate(-90)" text-anchor="middle" class="lb">NN-predicted</text>
</g>
<text x="104.4" y="815.0" class="an">Pearson’s r &gt; 0.99</text>
<text x="104.4" y="857.0" class="an">P &lt; 0.0001</text>
<text x="104.4" y="898.0" class="an">NRMSE =1.1%</text>
<text x="339.5" y="737.3" text-anchor="middle" class="tt" style="letter-spacing:-0.25px">Amine</text>
<g class="mpl">
<circle cx="1023.3" cy="909.1" r="3.6" fill="none" stroke="#6484dc" stroke-width="1.6"/>
<circle cx="1050.4" cy="873.8" r="3.6" fill="none" stroke="#6484dc" stroke-width="1.6"/>
<circle cx="1082.7" cy="824.7" r="3.6" fill="none" stroke="#6484dc" stroke-width="1.6"/>
<circle cx="1063.8" cy="804.7" r="3.6" fill="none" stroke="#6484dc" stroke-width="1.6"/>
<circle cx="1078.9" cy="804.7" r="3.6" fill="none" stroke="#6484dc" stroke-width="1.6"/>
<circle cx="1089.6" cy="804.2" r="3.6" fill="none" stroke="#6484dc" stroke-width="1.6"/>
<circle cx="1094.4" cy="788.7" r="3.6" fill="none" stroke="#6484dc" stroke-width="1.6"/>
<circle cx="1099.8" cy="787.1" r="3.6" fill="none" stroke="#6484dc" stroke-width="1.6"/>
<path d="M975.8,1089.3C974.7,1090.2 974.4,1090.4 973.6,1090.6C972.8,1090.8 971.9,1090.8 971.1,1090.6C970.3,1090.3 969.5,1089.9 968.9,1089.3C968.3,1088.7 967.9,1087.9 967.7,1087.1C967.4,1086.3 967.5,1085.3 967.7,1084.6C967.9,1083.8 967.1,1084.4 969.0,1082.4C970.8,1080.4 976.7,1074.7 979.0,1072.6C981.3,1070.4 980.5,1071.3 982.5,1069.3C984.5,1067.4 988.1,1063.7 991.0,1060.8C993.9,1057.9 997.0,1054.9 1000.0,1051.9C1003.0,1048.8 1005.8,1045.6 1008.7,1042.7C1011.6,1039.7 1014.7,1037.0 1017.4,1034.1C1020.1,1031.2 1022.3,1028.3 1025.0,1025.2C1027.7,1022.1 1031.5,1018.2 1033.7,1015.6C1035.9,1013.1 1035.8,1012.4 1038.0,1010.1C1040.2,1007.8 1044.0,1004.8 1046.9,1002.0C1049.8,999.2 1052.7,996.2 1055.6,993.4C1058.5,990.5 1061.4,987.9 1064.3,985.1C1067.2,982.3 1070.4,979.0 1073.0,976.4C1075.6,973.8 1078.0,972.0 1080.0,969.4C1082.0,966.8 1083.4,963.0 1085.0,961.1C1086.6,959.1 1088.0,958.8 1089.4,957.5C1090.9,956.2 1091.5,955.3 1093.7,953.2C1095.9,951.1 1099.6,947.7 1102.5,944.8C1105.4,941.9 1108.3,938.9 1111.2,935.7C1114.1,932.6 1117.1,928.8 1120.0,926.0C1122.9,923.1 1126.2,920.7 1128.7,918.6C1131.2,916.4 1132.0,915.9 1135.0,913.1C1138.0,910.3 1142.8,905.8 1146.7,901.9C1150.6,898.1 1154.5,894.1 1158.4,890.2C1162.3,886.3 1166.1,882.2 1170.0,878.7C1173.9,875.2 1178.8,871.7 1181.8,869.2C1184.8,866.8 1186.2,865.7 1187.7,863.9C1189.2,862.2 1188.6,861.0 1190.6,858.7C1192.5,856.3 1196.2,853.2 1199.4,849.8C1202.6,846.4 1206.6,841.9 1210.0,838.3C1213.4,834.8 1216.7,831.7 1220.0,828.7C1223.3,825.6 1227.2,822.4 1230.0,820.0C1232.8,817.7 1234.5,816.4 1236.7,814.7C1238.9,813.0 1241.1,811.0 1243.3,810.0C1245.5,809.0 1248.1,809.1 1250.0,808.7C1251.9,808.3 1253.4,807.6 1254.7,807.7C1256.0,807.8 1256.6,808.9 1258.0,809.3C1259.4,809.7 1261.3,809.9 1263.3,810.0C1265.3,810.1 1268.2,809.8 1270.0,810.0C1271.8,810.2 1273.0,810.5 1274.0,811.3C1275.0,812.1 1275.9,813.5 1276.0,814.7C1276.1,815.9 1275.7,817.0 1274.7,818.7C1273.7,820.4 1271.9,822.6 1270.0,824.7C1268.1,826.8 1265.5,828.9 1263.3,831.3C1261.1,833.7 1258.9,836.7 1256.7,839.3C1254.5,841.9 1252.2,844.1 1250.0,846.7C1247.8,849.3 1245.5,852.3 1243.3,854.7C1241.1,857.1 1238.9,859.2 1236.7,861.3C1234.5,863.4 1232.2,865.3 1230.0,867.3C1227.8,869.3 1225.5,871.4 1223.3,873.3C1221.1,875.2 1219.0,877.2 1217.0,878.5C1215.0,879.8 1213.0,879.9 1211.0,881.0C1209.0,882.0 1206.9,883.6 1205.2,885.0C1203.5,886.4 1202.5,888.2 1201.0,889.2C1199.5,890.2 1198.1,890.7 1196.4,890.9C1194.7,891.0 1192.2,890.8 1190.6,890.3C1188.9,889.8 1187.5,887.9 1186.5,887.9C1185.5,887.9 1186.0,888.8 1184.7,890.3C1183.5,891.7 1181.5,894.5 1179.0,896.6C1176.5,898.7 1173.4,900.0 1170.0,902.7C1166.6,905.3 1162.6,908.8 1158.4,912.5C1154.2,916.2 1148.5,921.8 1145.0,924.9C1141.5,928.1 1139.7,929.2 1137.4,931.3C1135.1,933.4 1132.3,936.2 1131.0,937.7C1129.7,939.3 1130.0,939.6 1129.6,940.5C1129.2,941.4 1129.6,941.7 1128.7,943.1C1127.8,944.5 1125.8,946.8 1124.3,948.8C1122.8,950.9 1121.5,953.1 1120.0,955.3C1118.5,957.4 1117.1,959.7 1115.6,961.9C1114.1,964.1 1112.6,966.2 1111.2,968.4C1109.8,970.7 1109.7,972.4 1107.0,975.2C1104.3,978.0 1098.7,982.2 1095.0,985.2C1091.3,988.2 1087.9,990.8 1085.0,993.4C1082.1,996.0 1080.1,998.2 1077.4,1000.9C1074.7,1003.5 1071.6,1006.4 1068.7,1009.1C1065.8,1011.9 1062.9,1014.7 1060.0,1017.4C1057.1,1020.1 1054.1,1022.4 1051.2,1025.3C1048.3,1028.1 1046.9,1030.3 1042.5,1034.5C1038.1,1038.6 1029.2,1046.5 1025.0,1050.2C1020.8,1053.9 1020.1,1054.5 1017.4,1056.7C1014.7,1059.0 1011.6,1061.4 1008.7,1063.7C1005.8,1066.0 1002.2,1068.8 1000.0,1070.7C997.8,1072.6 997.1,1073.8 995.6,1075.0C994.1,1076.2 992.8,1076.7 991.0,1077.9C989.2,1079.2 986.5,1081.2 984.7,1082.4C982.9,1083.7 981.5,1084.4 980.0,1085.6C978.5,1086.7 976.9,1088.5 975.8,1089.3Z" fill="#0a3dd0" stroke="#0a3dd0" stroke-width="0.6" stroke-linejoin="round"/>
<line x1="797.16" y1="1258.83" x2="1235.84" y2="826.37" stroke="#000" stroke-width="3.5" stroke-linecap="butt"/>
<rect x="774.2" y="763.5" width="521.4" height="517.6" fill="none" stroke="#858585" stroke-width="1.35"/>
<line x1="797.8" y1="1281.1" x2="797.8" y2="1284.7" stroke="#858585" stroke-width="1.2"/>
<text transform="translate(797.7,1306.7) scale(0.928,1)" text-anchor="middle" class="tk">0.0</text>
<line x1="907.1" y1="1281.1" x2="907.1" y2="1284.7" stroke="#858585" stroke-width="1.2"/>
<text transform="translate(907.0,1306.7) scale(0.928,1)" text-anchor="middle" class="tk">0.2</text>
<line x1="1016.5" y1="1281.1" x2="1016.5" y2="1284.7" stroke="#858585" stroke-width="1.2"/>
<text transform="translate(1016.4,1306.7) scale(0.928,1)" text-anchor="middle" class="tk">0.4</text>
<line x1="1125.8" y1="1281.1" x2="1125.8" y2="1284.7" stroke="#858585" stroke-width="1.2"/>
<text transform="translate(1125.8,1306.7) scale(0.928,1)" text-anchor="middle" class="tk">0.6</text>
<line x1="1235.2" y1="1281.1" x2="1235.2" y2="1284.7" stroke="#858585" stroke-width="1.2"/>
<text transform="translate(1235.1,1306.7) scale(0.928,1)" text-anchor="middle" class="tk">0.8</text>
<line x1="770.6" y1="1258.2" x2="774.2" y2="1258.2" stroke="#858585" stroke-width="1.2"/>
<text transform="translate(766.6,1268.1) scale(0.928,1)" text-anchor="end" class="tk">0.0</text>
<line x1="770.6" y1="1150.4" x2="774.2" y2="1150.4" stroke="#858585" stroke-width="1.2"/>
<text transform="translate(766.6,1160.3) scale(0.928,1)" text-anchor="end" class="tk">0.2</text>
<line x1="770.6" y1="1042.6" x2="774.2" y2="1042.6" stroke="#858585" stroke-width="1.2"/>
<text transform="translate(766.6,1052.5) scale(0.928,1)" text-anchor="end" class="tk">0.4</text>
<line x1="770.6" y1="934.8" x2="774.2" y2="934.8" stroke="#858585" stroke-width="1.2"/>
<text transform="translate(766.6,944.7) scale(0.928,1)" text-anchor="end" class="tk">0.6</text>
<line x1="770.6" y1="827.0" x2="774.2" y2="827.0" stroke="#858585" stroke-width="1.2"/>
<text transform="translate(766.6,836.9) scale(0.928,1)" text-anchor="end" class="tk">0.8</text>
<text x="1035.6" y="1340.4" text-anchor="middle" class="lb">Ground Truth</text>
<text transform="translate(722.0,1024.6) rotate(-90)" text-anchor="middle" class="lb">NN-predicted</text>
</g>
<text x="782.9" y="801.0" class="an">Pearson’s r &gt; 0.99</text>
<text x="782.9" y="843.0" class="an">p &lt; 0.0001</text>
<text x="782.9" y="884.0" class="an">NRMSE = 2.2%</text>
<text x="1025.9" y="737.3" text-anchor="middle" class="tt" style="letter-spacing:-0.3px">Iohexol</text>
<g class="mpl">
<circle cx="1683.3" cy="1014.4" r="3.6" fill="none" stroke="#6484dc" stroke-width="1.6"/>
<circle cx="1686.2" cy="1008.5" r="3.6" fill="none" stroke="#6484dc" stroke-width="1.6"/>
<circle cx="1689.7" cy="1002.6" r="3.6" fill="none" stroke="#6484dc" stroke-width="1.6"/>
<circle cx="1694.3" cy="995.8" r="3.6" fill="none" stroke="#6484dc" stroke-width="1.6"/>
<circle cx="1724.9" cy="976.2" r="3.6" fill="none" stroke="#6484dc" stroke-width="1.6"/>
<circle cx="1746.0" cy="940.7" r="3.6" fill="none" stroke="#6484dc" stroke-width="1.6"/>
<circle cx="1770.4" cy="895.1" r="3.6" fill="none" stroke="#6484dc" stroke-width="1.6"/>
<circle cx="1802.0" cy="835.1" r="3.6" fill="none" stroke="#6484dc" stroke-width="1.6"/>
<path d="M1567.4,1186.5C1566.1,1187.6 1566.2,1187.4 1565.5,1187.6C1564.8,1187.8 1563.9,1187.9 1563.2,1187.7C1562.5,1187.5 1561.8,1187.1 1561.3,1186.6C1560.7,1186.1 1560.3,1185.4 1560.1,1184.7C1559.9,1184.0 1559.9,1183.1 1560.1,1182.4C1560.2,1181.7 1559.2,1182.7 1561.2,1180.5C1563.1,1178.2 1569.2,1172.0 1572.0,1169.0C1574.8,1166.1 1575.5,1165.3 1578.0,1162.7C1580.5,1160.1 1583.8,1156.7 1586.7,1153.6C1589.6,1150.5 1592.6,1147.3 1595.6,1144.2C1598.5,1141.0 1601.7,1137.4 1604.4,1134.4C1607.1,1131.5 1610.2,1128.4 1612.0,1126.3C1613.8,1124.1 1614.0,1123.1 1615.0,1121.5C1616.0,1119.8 1616.0,1119.0 1618.0,1116.3C1620.0,1113.7 1624.0,1109.0 1627.0,1105.8C1630.0,1102.6 1632.8,1100.0 1635.8,1097.0C1638.8,1094.0 1641.7,1090.8 1644.7,1087.7C1647.7,1084.6 1650.9,1081.2 1653.6,1078.4C1656.3,1075.6 1657.3,1074.5 1661.0,1070.9C1664.7,1067.3 1672.0,1060.4 1676.0,1056.5C1680.0,1052.7 1682.0,1050.8 1685.0,1047.9C1688.0,1045.0 1690.8,1042.2 1693.8,1039.1C1696.8,1036.0 1699.7,1032.6 1702.7,1029.4C1705.7,1026.1 1708.9,1022.7 1711.6,1019.6C1714.3,1016.4 1715.0,1015.0 1718.7,1010.6C1722.4,1006.2 1730.5,997.2 1734.0,993.3C1737.5,989.5 1738.3,989.3 1739.8,987.5C1741.3,985.7 1740.9,985.1 1742.9,982.6C1744.9,980.2 1750.0,974.9 1751.8,972.8C1753.6,970.6 1752.5,971.1 1754.0,969.7C1755.5,968.3 1758.9,965.8 1760.7,964.4C1762.5,962.9 1763.5,962.1 1765.0,960.9C1766.5,959.7 1767.8,958.9 1769.6,957.3C1771.4,955.6 1772.3,954.9 1776.0,950.8C1779.7,946.8 1787.6,937.8 1792.0,933.0C1796.4,928.3 1799.0,926.1 1802.5,922.6C1806.0,919.1 1810.4,915.1 1813.0,912.1C1815.6,909.1 1816.5,906.7 1818.3,904.7C1820.1,902.7 1821.0,902.5 1823.6,899.9C1826.2,897.3 1830.9,892.1 1834.0,889.0C1837.1,885.9 1839.3,883.9 1842.0,881.4C1844.7,879.0 1846.3,877.9 1850.0,874.2C1853.7,870.6 1859.3,864.5 1863.9,859.6C1868.5,854.8 1873.2,849.7 1877.8,845.0C1882.4,840.4 1888.1,835.2 1891.8,831.8C1895.5,828.5 1897.5,827.1 1900.0,824.8C1902.5,822.6 1904.5,820.5 1906.7,818.2C1908.9,815.9 1911.1,813.3 1913.3,811.0C1915.5,808.8 1918.0,806.4 1920.0,804.4C1922.0,802.4 1923.8,800.3 1925.3,799.3C1926.8,798.3 1927.2,798.4 1928.7,798.3C1930.2,798.2 1931.9,798.6 1934.0,798.6C1936.1,798.6 1939.2,798.5 1941.3,798.4C1943.4,798.2 1944.7,797.7 1946.7,797.7C1948.7,797.7 1951.1,798.2 1953.3,798.3C1955.5,798.4 1957.8,798.3 1960.0,798.3C1962.2,798.3 1964.9,798.0 1966.7,798.3C1968.5,798.6 1969.6,799.2 1970.7,800.0C1971.8,800.8 1972.9,802.2 1973.3,803.3C1973.7,804.4 1973.8,805.6 1973.3,806.7C1972.8,807.8 1971.7,808.2 1970.0,810.0C1968.3,811.8 1965.5,814.6 1963.3,817.3C1961.1,820.0 1958.9,823.3 1956.7,826.0C1954.5,828.7 1952.2,830.8 1950.0,833.3C1947.8,835.8 1945.5,838.7 1943.3,841.3C1941.1,843.9 1939.5,846.1 1936.7,848.7C1933.9,851.3 1930.5,853.2 1926.5,856.7C1922.5,860.1 1917.2,865.2 1912.6,869.6C1908.0,874.0 1902.6,879.3 1898.7,883.0C1894.8,886.6 1892.1,889.0 1889.0,891.5C1885.9,894.1 1883.2,896.2 1880.0,898.4C1876.8,900.6 1873.3,902.7 1870.0,904.7C1866.7,906.7 1862.5,909.1 1860.0,910.5C1857.5,911.9 1856.7,912.3 1855.0,913.2C1853.3,914.0 1851.6,914.6 1849.9,915.6C1848.2,916.7 1846.4,918.1 1844.6,919.4C1842.8,920.8 1841.1,922.0 1839.3,923.6C1837.5,925.2 1836.6,926.3 1834.0,928.9C1831.4,931.5 1826.8,935.7 1823.6,939.4C1820.4,943.1 1818.0,947.4 1814.6,951.0C1811.2,954.6 1806.8,958.0 1803.0,961.1C1799.2,964.3 1795.3,967.5 1792.0,970.1C1788.7,972.8 1786.0,974.6 1783.0,977.1C1780.0,979.5 1777.0,982.2 1774.0,984.8C1771.0,987.4 1768.0,990.1 1765.0,992.9C1762.0,995.7 1758.9,998.8 1756.2,1001.7C1753.5,1004.7 1752.4,1006.9 1748.7,1010.6C1745.0,1014.3 1737.2,1020.8 1734.0,1023.9C1730.8,1027.1 1731.6,1027.0 1729.3,1029.3C1727.0,1031.6 1723.4,1035.1 1720.4,1037.8C1717.5,1040.6 1714.5,1042.9 1711.6,1045.8C1708.6,1048.6 1705.7,1051.7 1702.7,1054.7C1699.7,1057.7 1696.4,1060.9 1693.8,1063.6C1691.2,1066.3 1690.0,1068.3 1687.0,1070.8C1684.0,1073.4 1678.6,1077.0 1676.0,1079.1C1673.4,1081.3 1673.6,1081.3 1671.3,1083.6C1669.0,1085.9 1665.4,1089.8 1662.4,1093.0C1659.5,1096.2 1656.5,1099.7 1653.6,1102.8C1650.6,1105.9 1647.7,1108.6 1644.7,1111.7C1641.7,1114.7 1638.8,1117.8 1635.8,1121.0C1632.8,1124.2 1630.0,1127.9 1627.0,1130.7C1624.0,1133.5 1620.3,1136.0 1618.0,1137.9C1615.7,1139.9 1615.6,1140.4 1613.3,1142.4C1611.0,1144.4 1607.4,1147.4 1604.4,1150.0C1601.5,1152.7 1598.5,1155.7 1595.6,1158.5C1592.6,1161.3 1589.6,1164.0 1586.7,1166.9C1583.8,1169.7 1580.3,1173.3 1578.0,1175.6C1575.7,1177.9 1574.8,1178.9 1573.0,1180.7C1571.2,1182.5 1568.7,1185.3 1567.4,1186.5Z" fill="#0a3dd0" stroke="#0a3dd0" stroke-width="0.6" stroke-linejoin="round"/>
<line x1="1494.48" y1="1258.85" x2="1951.12" y2="785.65" stroke="#000" stroke-width="3.5" stroke-linecap="butt"/>
<rect x="1470.5" y="763.5" width="523.9" height="517.6" fill="none" stroke="#858585" stroke-width="1.35"/>
<line x1="1495.1" y1="1281.1" x2="1495.1" y2="1284.7" stroke="#858585" stroke-width="1.2"/>
<text transform="translate(1495.0,1306.7) scale(0.928,1)" text-anchor="middle" class="tk">0.0</text>
<line x1="1608.9" y1="1281.1" x2="1608.9" y2="1284.7" stroke="#858585" stroke-width="1.2"/>
<text transform="translate(1608.8,1306.7) scale(0.928,1)" text-anchor="middle" class="tk">0.2</text>
<line x1="1722.8" y1="1281.1" x2="1722.8" y2="1284.7" stroke="#858585" stroke-width="1.2"/>
<text transform="translate(1722.7,1306.7) scale(0.928,1)" text-anchor="middle" class="tk">0.4</text>
<line x1="1836.7" y1="1281.1" x2="1836.7" y2="1284.7" stroke="#858585" stroke-width="1.2"/>
<text transform="translate(1836.6,1306.7) scale(0.928,1)" text-anchor="middle" class="tk">0.6</text>
<line x1="1950.5" y1="1281.1" x2="1950.5" y2="1284.7" stroke="#858585" stroke-width="1.2"/>
<text transform="translate(1950.4,1306.7) scale(0.928,1)" text-anchor="middle" class="tk">0.8</text>
<line x1="1466.9" y1="1258.2" x2="1470.5" y2="1258.2" stroke="#858585" stroke-width="1.2"/>
<text transform="translate(1462.9,1268.1) scale(0.928,1)" text-anchor="end" class="tk">0.0</text>
<line x1="1466.9" y1="1199.2" x2="1470.5" y2="1199.2" stroke="#858585" stroke-width="1.2"/>
<text transform="translate(1462.9,1209.1) scale(0.928,1)" text-anchor="end" class="tk">0.1</text>
<line x1="1466.9" y1="1140.2" x2="1470.5" y2="1140.2" stroke="#858585" stroke-width="1.2"/>
<text transform="translate(1462.9,1150.1) scale(0.928,1)" text-anchor="end" class="tk">0.2</text>
<line x1="1466.9" y1="1081.2" x2="1470.5" y2="1081.2" stroke="#858585" stroke-width="1.2"/>
<text transform="translate(1462.9,1091.1) scale(0.928,1)" text-anchor="end" class="tk">0.3</text>
<line x1="1466.9" y1="1022.2" x2="1470.5" y2="1022.2" stroke="#858585" stroke-width="1.2"/>
<text transform="translate(1462.9,1032.2) scale(0.928,1)" text-anchor="end" class="tk">0.4</text>
<line x1="1466.9" y1="963.3" x2="1470.5" y2="963.3" stroke="#858585" stroke-width="1.2"/>
<text transform="translate(1462.9,973.2) scale(0.928,1)" text-anchor="end" class="tk">0.5</text>
<line x1="1466.9" y1="904.3" x2="1470.5" y2="904.3" stroke="#858585" stroke-width="1.2"/>
<text transform="translate(1462.9,914.2) scale(0.928,1)" text-anchor="end" class="tk">0.6</text>
<line x1="1466.9" y1="845.3" x2="1470.5" y2="845.3" stroke="#858585" stroke-width="1.2"/>
<text transform="translate(1462.9,855.2) scale(0.928,1)" text-anchor="end" class="tk">0.7</text>
<line x1="1466.9" y1="786.3" x2="1470.5" y2="786.3" stroke="#858585" stroke-width="1.2"/>
<text transform="translate(1462.9,796.2) scale(0.928,1)" text-anchor="end" class="tk">0.8</text>
<text x="1733.2" y="1340.4" text-anchor="middle" class="lb">Ground Truth</text>
<text transform="translate(1418.3,1024.6) rotate(-90)" text-anchor="middle" class="lb">NN-predicted</text>
</g>
<text x="1485.9" y="815.0" class="an">Pearson’s r &gt; 0.99</text>
<text x="1485.9" y="857.0" class="an">p &lt; 0.0001</text>
<text x="1485.9" y="898.0" class="an">NRMSE = 1.5%</text>
<text x="1722.9" y="737.4" text-anchor="middle" class="tt" style="letter-spacing:-0.33px">Amide</text>
</svg>
</body>
</html>
